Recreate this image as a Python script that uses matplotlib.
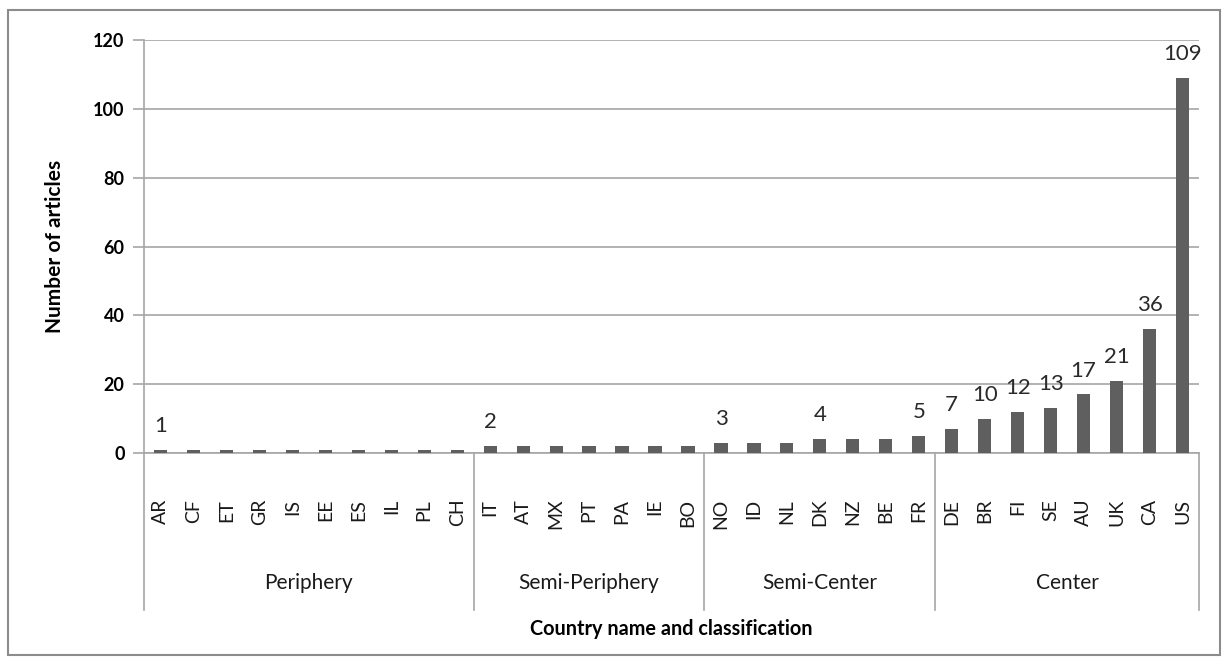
import matplotlib
matplotlib.use("Agg")
import matplotlib.pyplot as plt
import matplotlib.transforms as mtransforms

countries = ["AR", "CF", "ET", "GR", "IS", "EE", "ES", "IL", "PL", "CH",
             "IT", "AT", "MX", "PT", "PA", "IE", "BO",
             "NO", "ID", "NL", "DK", "NZ", "BE", "FR",
             "DE", "BR", "FI", "SE", "AU", "UK", "CA", "US"]
articles = [1, 1, 1, 1, 1, 1, 1, 1, 1, 1,
            2, 2, 2, 2, 2, 2, 2,
            3, 3, 3, 4, 4, 4, 5,
            7, 10, 12, 13, 17, 21, 36, 109]
groups = ["Periphery", "Semi-Periphery", "Semi-Center", "Center"]
group_sizes = [10, 7, 7, 8]
labelled = ["AR", "IT", "NO", "DK", "FR", "DE", "BR", "FI", "SE", "AU", "UK", "CA", "US"]
y_ticks = [0, 20, 40, 60, 80, 100, 120]

FONT = "Lato"
plt.rcParams['font.family'] = [FONT, 'DejaVu Sans']

fig = plt.figure(figsize=(12.28, 6.64), dpi=100)
fig.patch.set_facecolor("white")
# outer border
fig.add_artist(plt.Rectangle((8/1228, 1-655/664), (1220-8)/1228, (655-10)/664,
                             transform=fig.transFigure, fill=False,
                             edgecolor="#8c8c8c", linewidth=1.5))

ax = fig.add_axes([144/1228, 1-453/664, (1199-144)/1228, (453-40)/664])
x = list(range(len(countries)))
ax.bar(x, articles, width=0.4, color="#5f5f5f", zorder=3)
ax.set_xlim(-0.5, len(countries) - 0.5)
ax.set_ylim(0, 120)
ax.set_yticks(y_ticks)
ax.set_yticklabels([str(v) for v in y_ticks], fontsize=13, fontweight="bold")
ax.yaxis.grid(True, color="#a6a6a6", linewidth=1.2, zorder=0)
ax.tick_params(axis="y", length=8, color="#a6a6a6", width=1.2, pad=6)
ax.set_xticks(x)
ax.set_xticklabels(countries, rotation=90, fontsize=14, color="#1a1a1a")
ax.tick_params(axis="x", length=0, pad=33)
for s in ["top", "right"]:
    ax.spines[s].set_visible(False)
for s in ["left", "bottom"]:
    ax.spines[s].set_color("#a6a6a6")
    ax.spines[s].set_linewidth(1.2)

for c, v in zip(countries, articles):
    if c in labelled:
        i = countries.index(c)
        ax.annotate(str(v), (i, v), xytext=(0, 10), textcoords="offset points",
                    ha="center", va="bottom", fontsize=16, color="#2a2a2a")

trans = mtransforms.blended_transform_factory(ax.transData, ax.transAxes)
bottom = (453 - 610) / 413
bounds = [-0.5]
for g in group_sizes:
    bounds.append(bounds[-1] + g)
for b in bounds:
    ax.plot([b, b], [0, bottom], transform=trans, color="#a6a6a6",
            linewidth=1.2, clip_on=False)
for g, lo, hi in zip(groups, bounds[:-1], bounds[1:]):
    ax.text((lo + hi) / 2, (453 - 583) / 413, g, transform=trans,
            ha="center", va="center", fontsize=15, color="#1a1a1a")

ax.text(0.5, (453 - 629) / 413, "Country name and classification",
        transform=ax.transAxes, ha="center", va="center",
        fontsize=14.3, fontweight="bold")
fig.text(55/1228, 1 - 246/664, "Number of articles", rotation=90,
         ha="center", va="center", fontsize=15, fontweight="bold")

fig.savefig("out.png", dpi=100, facecolor="white")
